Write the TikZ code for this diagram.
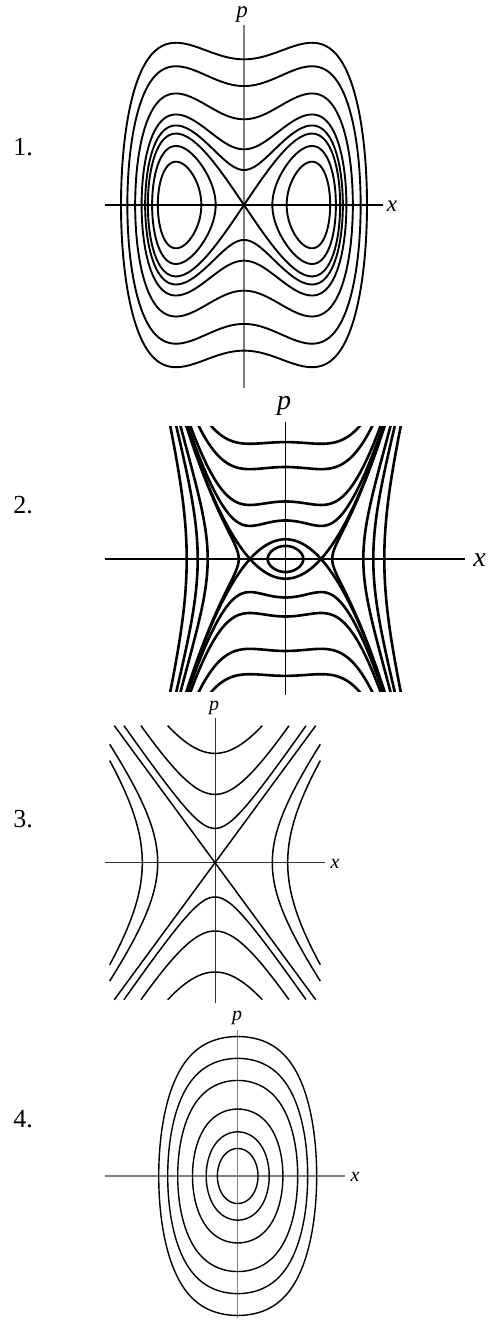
\documentclass[tikz,border=0pt]{standalone}
\usepackage{fontspec}
\setmainfont{Liberation Serif}
\begin{document}
\begin{tikzpicture}[x=1pt,y=1pt,
  cA/.style={line width=1.9pt,line join=round},
  cB/.style={line width=2.6pt,line join=round},
  cC/.style={line width=1.5pt},
  cD/.style={line width=1.4pt},
  axgray/.style={line width=1.8pt,draw=black!50},
  axblack/.style={line width=1.2pt},
  axthin/.style={line width=1pt,draw=black!80},
  lbl/.style={inner sep=0pt,font=\fontsize{26}{30}\selectfont},
  albl/.style={inner sep=0pt,font=\fontsize{23}{26}\selectfont\itshape},
  blbl/.style={inner sep=0pt,font=\fontsize{28}{32}\selectfont\itshape},
  clbl/.style={inner sep=0pt,font=\fontsize{20}{24}\selectfont\itshape}]
\useasboundingbox (0,0) rectangle (502,1320);
\fill[white] (0,0) rectangle (502,1320);

% ---------- Panel 1 ----------
\draw[axblack] (105,1115) -- (383,1115);
\draw[axgray] (244,1295) -- (244,932);
\begin{scope}[shift={(244pt,1115pt)},x=68pt,y=71.4pt]
  \foreach \A in {3.272,2.943,2.562,2.268,2.1136,2}
    \draw[cA] plot[domain=0:360,samples=241] ({sqrt(\A)*sin(\x)},{cos(\x)*sqrt(\A*(\A*(1+sin(\x)*sin(\x))-2))}) -- cycle;
  \foreach \r in {0.6063,0.8261} {
    \draw[cA] plot[domain=0:360,samples=121] ({sqrt(1+\r*sin(\x))},{\r*cos(\x)}) -- cycle;
    \draw[cA] plot[domain=0:360,samples=121] ({-sqrt(1+\r*sin(\x))},{\r*cos(\x)}) -- cycle;
  }
\end{scope}
\node[albl] (p1) at (242,1305.5) {p};
\node[albl] (x1) at (392,1114) {x};
\node[lbl] (n1) at (23,1173) {1.};

% ---------- Panel 2 ----------
\draw[axblack,line width=1.5pt] (105,761) -- (465,761);
\draw[axblack,line width=1.5pt] (285.5,898) -- (285.5,625);
\begin{scope}[shift={(285.5pt,761pt)},x=35.5pt,y=27.86pt]
  \clip (-4.6,-4.76) rectangle (4.6,4.74);
  \foreach \e in {1.91,4.26,10.9,17.6} {
    \draw[cB] plot[domain=-3:3,samples=241] (\x,{sqrt(\e-\x*\x+\x*\x*\x*\x/2)});
    \draw[cB] plot[domain=-3:3,samples=241] (\x,{-sqrt(\e-\x*\x+\x*\x*\x*\x/2)});
  }
  \foreach \e in {-22.25,-12.59,-6.74,0.232} {
    \draw[cB] plot[domain=-4.8:4.8,samples=121] ({sqrt(1+sqrt(1-2*(\e)+2*\x*\x))},\x);
    \draw[cB] plot[domain=-4.8:4.8,samples=121] ({-sqrt(1+sqrt(1-2*(\e)+2*\x*\x))},\x);
  }
  \draw[cB] plot[domain=-3.3:3.3,samples=241] (\x,{(1-\x*\x)*0.70711});
  \draw[cB] plot[domain=-3.3:3.3,samples=241] (\x,{-(1-\x*\x)*0.70711});
  \def\Ain{0.25167}
  \draw[cB] plot[domain=0:360,samples=121] ({sqrt(\Ain)*sin(\x)},{cos(\x)*sqrt(\Ain*(1-\Ain*(1+sin(\x)*sin(\x))/2))}) -- cycle;
\end{scope}
\node[blbl] (p2) at (284,914) {p};
\node[blbl] (x2) at (479.7,760) {x};
\node[lbl] (n2) at (23,815) {2.};

% ---------- Panel 3 ----------
\draw[axthin] (105,457.3) -- (325,457.3);
\draw[axthin] (215,602) -- (215,317);
\begin{scope}[shift={(215pt,457.3pt)}]
  \foreach \b/\s/\T in {34.3/1.457/2.062,68.3/1.605/1.3205,109.3/1.746/0.6977} {
    \draw[cC] plot[domain=-\T:\T,samples=101] ({\b/\s*sinh(\x)},{\b*cosh(\x)});
    \draw[cC] plot[domain=-\T:\T,samples=101] ({\b/\s*sinh(\x)},{-\b*cosh(\x)});
  }
  \foreach \a/\T in {57.3/1.2177,72.7/0.9148} {
    \draw[cC] plot[domain=-\T:\T,samples=101] ({\a*cosh(\x)},{1.34*\a*sinh(\x)});
    \draw[cC] plot[domain=-\T:\T,samples=101] ({-\a*cosh(\x)},{1.34*\a*sinh(\x)});
  }
  \coordinate (s1) at (-100.7,137);
  \coordinate (s2) at (100.7,-137);
  \coordinate (s3) at (100.7,137);
  \coordinate (s4) at (-100.7,-137);
  \draw[cC] (s1) -- (s2);
  \draw[cC] (s3) -- (s4);
\end{scope}
\node[clbl] (p3) at (214,612) {p};
\node[clbl] (x3) at (335,456.5) {x};
\node[lbl] (n3) at (23,501) {3.};

% ---------- Panel 4 ----------
\draw[axgray,line width=1.3pt] (105,144) -- (345,144);
\draw[axgray,line width=1.3pt] (237.7,290) -- (237.7,2);
\begin{scope}[shift={(237.7pt,144pt)},x=21.2pt,y=28pt]
  \foreach \u in {0.9575,1.486,2.132,2.830,3.302,3.726}
    \draw[cD] plot[domain=0:360,samples=181] ({\u*sin(\x)},{cos(\x)*sqrt(\u*\u+0.0567*\u*\u*\u*\u*(1+sin(\x)*sin(\x)))}) -- cycle;
\end{scope}
\node[clbl] (p4) at (237,302.5) {p};
\node[clbl] (x4) at (355,143) {x};
\node[lbl] (n4) at (23,201) {4.};
\end{tikzpicture}
\end{document}
